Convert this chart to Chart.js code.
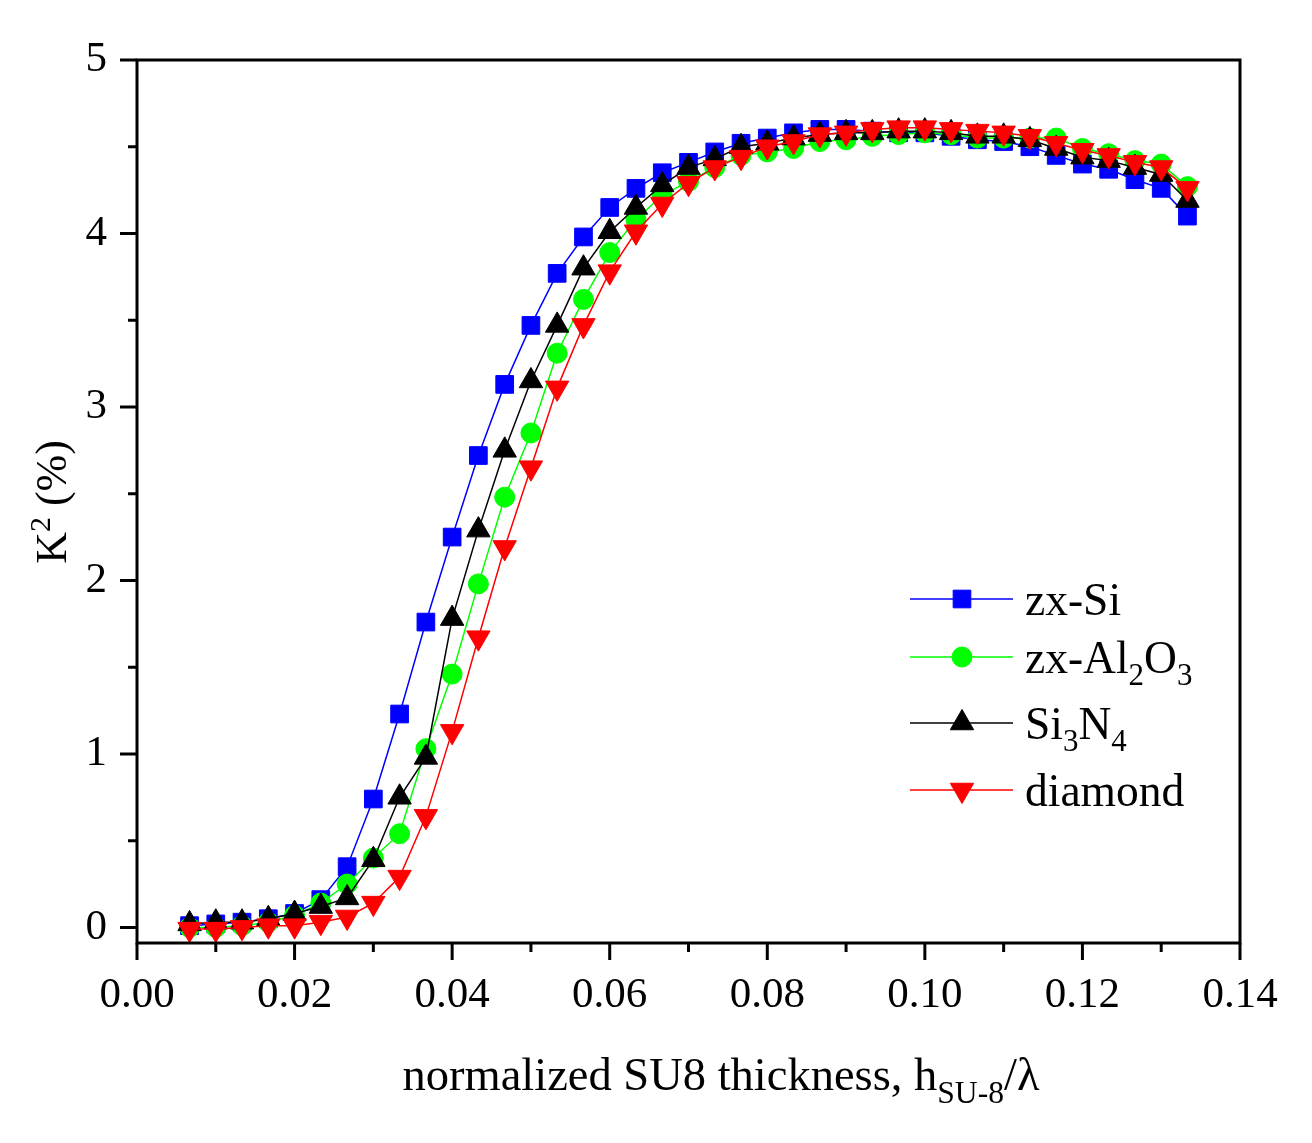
<!DOCTYPE html>
<html>
<head>
<meta charset="utf-8">
<script src="https://cdn.jsdelivr.net/npm/chart.js@4.4.1/dist/chart.umd.min.js"></script>
<style>
  html, body { margin: 0; padding: 0; background: #fff; }
  canvas { display: block; }
</style>
</head>
<body>
<canvas id="k2Chart" width="1312" height="1143"></canvas>
<script>
// normalized SU-8 thickness h/lambda
const thickness = [0.00667, 0.01, 0.01333, 0.01667, 0.02, 0.02333, 0.02667, 0.03, 0.03333, 0.03667,
    0.04, 0.04333, 0.04667, 0.05, 0.05333, 0.05667, 0.06, 0.06333, 0.06667, 0.07,
    0.07333, 0.07667, 0.08, 0.08333, 0.08667, 0.09, 0.09333, 0.09667, 0.1, 0.10333,
    0.10667, 0.11, 0.11333, 0.11667, 0.12, 0.12333, 0.12667, 0.13, 0.13333];

// K^2 (%) per substrate
const zxSi = [0.01, 0.02, 0.03, 0.05, 0.08, 0.16, 0.35, 0.74, 1.23, 1.76,
    2.25, 2.72, 3.13, 3.47, 3.77, 3.98, 4.15, 4.26, 4.35, 4.41,
    4.47, 4.52, 4.55, 4.58, 4.60, 4.60, 4.59, 4.58, 4.58, 4.56,
    4.54, 4.53, 4.50, 4.45, 4.40, 4.37, 4.31, 4.26, 4.10];
const zxAl2O3 = [0.00, 0.00, 0.01, 0.03, 0.07, 0.14, 0.25, 0.40, 0.54, 1.03,
    1.46, 1.98, 2.48, 2.85, 3.31, 3.62, 3.89, 4.08, 4.22, 4.30,
    4.38, 4.45, 4.47, 4.49, 4.53, 4.54, 4.56, 4.57, 4.58, 4.57,
    4.55, 4.55, 4.55, 4.55, 4.49, 4.46, 4.42, 4.40, 4.27];
const si3n4 = [0.02, 0.03, 0.03, 0.05, 0.08, 0.12, 0.17, 0.39, 0.75, 0.98,
    1.78, 2.29, 2.75, 3.15, 3.47, 3.80, 4.01, 4.15, 4.28, 4.38,
    4.43, 4.50, 4.52, 4.55, 4.57, 4.58, 4.58, 4.59, 4.59, 4.58,
    4.56, 4.56, 4.54, 4.49, 4.44, 4.42, 4.38, 4.34, 4.19];
const diamond = [-0.01, -0.01, 0.00, 0.01, 0.01, 0.03, 0.06, 0.14, 0.29, 0.64,
    1.13, 1.67, 2.19, 2.65, 3.11, 3.47, 3.78, 4.01, 4.17, 4.29,
    4.38, 4.44, 4.50, 4.53, 4.57, 4.58, 4.60, 4.61, 4.61, 4.60,
    4.59, 4.58, 4.56, 4.52, 4.48, 4.45, 4.41, 4.38, 4.26];

const seriesLabels = ['zx-Si', 'zx-Al_2O_3', 'Si_3N_4', 'diamond'];

const xTicks = [0, 0.02, 0.04, 0.06, 0.08, 0.10, 0.12, 0.14];
const xMinorTicks = [0.01, 0.03, 0.05, 0.07, 0.09, 0.11, 0.13];
const yTicks = [0, 1, 2, 3, 4, 5];
const yMinorTicks = [0.5, 1.5, 2.5, 3.5, 4.5];

const xTitle = 'normalized SU8 thickness, h_{SU-8}/\u03bb';
const yTitle = 'K^2 (%)';

const FONT = '"Liberation Serif", "Times New Roman", serif';

// split "a_{b}c^d" into normal / sub / super pieces
function parseRich(str) {
    const segs = [];
    let buf = '';
    let i = 0;
    while (i < str.length) {
        const c = str[i];
        if (c === '_' || c === '^') {
            if (buf) { segs.push({ text: buf, shift: 0 }); buf = ''; }
            let t;
            if (str[i + 1] === '{') {
                const end = str.indexOf('}', i);
                t = str.slice(i + 2, end);
                i = end + 1;
            } else {
                t = str[i + 1];
                i += 2;
            }
            segs.push({ text: t, shift: c === '_' ? 1 : -1 });
        } else {
            buf += c;
            i++;
        }
    }
    if (buf) segs.push({ text: buf, shift: 0 });
    return segs;
}

function richWidth(ctx, str, size) {
    let w = 0;
    parseRich(str).forEach(seg => {
        ctx.font = `${seg.shift ? size * 0.68 : size}px ${FONT}`;
        w += ctx.measureText(seg.text).width;
    });
    return w;
}

function drawRich(ctx, str, x, y, size) {
    parseRich(str).forEach(seg => {
        const s = seg.shift ? size * 0.68 : size;
        ctx.font = `${s}px ${FONT}`;
        const dy = seg.shift === 1 ? size * 0.27 : (seg.shift === -1 ? -size * 0.36 : 0);
        ctx.fillText(seg.text, x, y + dy);
        x += ctx.measureText(seg.text).width;
    });
    return x;
}

const decorations = {
    id: 'decorations',
    afterDraw(chart) {
        const { ctx, chartArea: a, scales: { x, y } } = chart;
        ctx.save();

        // frame + outward ticks
        ctx.strokeStyle = '#000';
        ctx.lineWidth = 3;
        ctx.strokeRect(a.left, a.top, a.right - a.left, a.bottom - a.top);
        ctx.beginPath();
        xTicks.forEach(v => {
            const px = x.getPixelForValue(v);
            ctx.moveTo(px, a.bottom); ctx.lineTo(px, a.bottom + 17);
        });
        xMinorTicks.forEach(v => {
            const px = x.getPixelForValue(v);
            ctx.moveTo(px, a.bottom); ctx.lineTo(px, a.bottom + 9);
        });
        yTicks.forEach(v => {
            const py = y.getPixelForValue(v);
            ctx.moveTo(a.left, py); ctx.lineTo(a.left - 17, py);
        });
        yMinorTicks.forEach(v => {
            const py = y.getPixelForValue(v);
            ctx.moveTo(a.left, py); ctx.lineTo(a.left - 9, py);
        });
        ctx.stroke();

        // axis titles
        ctx.fillStyle = '#000';
        ctx.textBaseline = 'alphabetic';
        ctx.textAlign = 'left';
        const xw = richWidth(ctx, xTitle, 46.5);
        drawRich(ctx, xTitle, 721 - xw / 2, 1090, 46.5);

        const yw = richWidth(ctx, yTitle, 44);
        ctx.save();
        ctx.translate(66, 502);
        ctx.rotate(-Math.PI / 2);
        drawRich(ctx, yTitle, -yw / 2, 0, 44);
        ctx.restore();

        // legend
        const rows = [599, 657, 723, 790];
        chart.data.datasets.forEach((ds, i) => {
            const ly = rows[i];
            ctx.strokeStyle = ds.borderColor;
            ctx.lineWidth = ds.borderWidth;
            ctx.beginPath();
            ctx.moveTo(910, ly);
            ctx.lineTo(1013, ly);
            ctx.stroke();
            ctx.fillStyle = ds.backgroundColor;
            ctx.lineWidth = ds.pointBorderWidth;
            Chart.helpers.drawPoint(ctx, {
                pointStyle: ds.pointStyle,
                radius: ds.pointRadius,
                rotation: ds.pointRotation || 0,
                borderWidth: ds.pointBorderWidth
            }, 962, ly);
            ctx.fillStyle = '#000';
            drawRich(ctx, seriesLabels[i], 1025, ly + 16, 45.5);
        });

        ctx.restore();
    }
};

const toPoints = ys => thickness.map((t, i) => ({ x: t, y: ys[i] }));

new Chart(document.getElementById('k2Chart'), {
    type: 'line',
    data: {
        datasets: [{
            label: 'zx-Si',
            data: toPoints(zxSi),
            borderColor: '#0000ff',
            backgroundColor: '#0000ff',
            borderWidth: 1.5,
            pointStyle: 'rect',
            pointRadius: 12.5,
            pointBorderWidth: 1,
            order: 4,
            clip: false
        }, {
            label: 'zx-Al2O3',
            data: toPoints(zxAl2O3),
            borderColor: '#00ff00',
            backgroundColor: '#00ff00',
            borderWidth: 1.5,
            pointStyle: 'circle',
            pointRadius: 10,
            pointBorderWidth: 1,
            order: 3,
            clip: false
        }, {
            label: 'Si3N4',
            data: toPoints(si3n4),
            borderColor: '#000000',
            backgroundColor: '#000000',
            borderWidth: 1.5,
            pointStyle: 'triangle',
            pointRadius: 13.5,
            pointBorderWidth: 1,
            order: 2,
            clip: false
        }, {
            label: 'diamond',
            data: toPoints(diamond),
            borderColor: '#ff0000',
            backgroundColor: '#ff0000',
            borderWidth: 1.5,
            pointStyle: 'triangle',
            pointRotation: 180,
            pointRadius: 13.5,
            pointBorderWidth: 1,
            order: 1,
            clip: false
        }]
    },
    options: {
        responsive: false,
        animation: false,
        layout: { padding: { top: 60, right: 72, left: 0, bottom: 0 } },
        plugins: {
            legend: { display: false },
            tooltip: { enabled: false }
        },
        scales: {
            x: {
                type: 'linear',
                min: 0,
                max: 0.14,
                grid: { display: false, drawTicks: false },
                border: { display: false },
                afterBuildTicks: s => { s.ticks = xTicks.map(v => ({ value: v })); },
                afterFit: s => { s.height = 200; },
                ticks: {
                    font: { family: FONT, size: 43 },
                    color: '#000',
                    padding: 27,
                    maxRotation: 0,
                    autoSkip: false,
                    callback: v => v.toFixed(2)
                }
            },
            y: {
                type: 'linear',
                min: -0.09,
                max: 5,
                grid: { display: false, drawTicks: false },
                border: { display: false },
                afterBuildTicks: s => { s.ticks = yTicks.map(v => ({ value: v })); },
                afterFit: s => { s.width = 137; },
                ticks: {
                    font: { family: FONT, size: 43 },
                    color: '#000',
                    padding: 30,
                    autoSkip: false,
                    callback: v => String(v)
                }
            }
        }
    },
    plugins: [decorations]
});
</script>
</body>
</html>
